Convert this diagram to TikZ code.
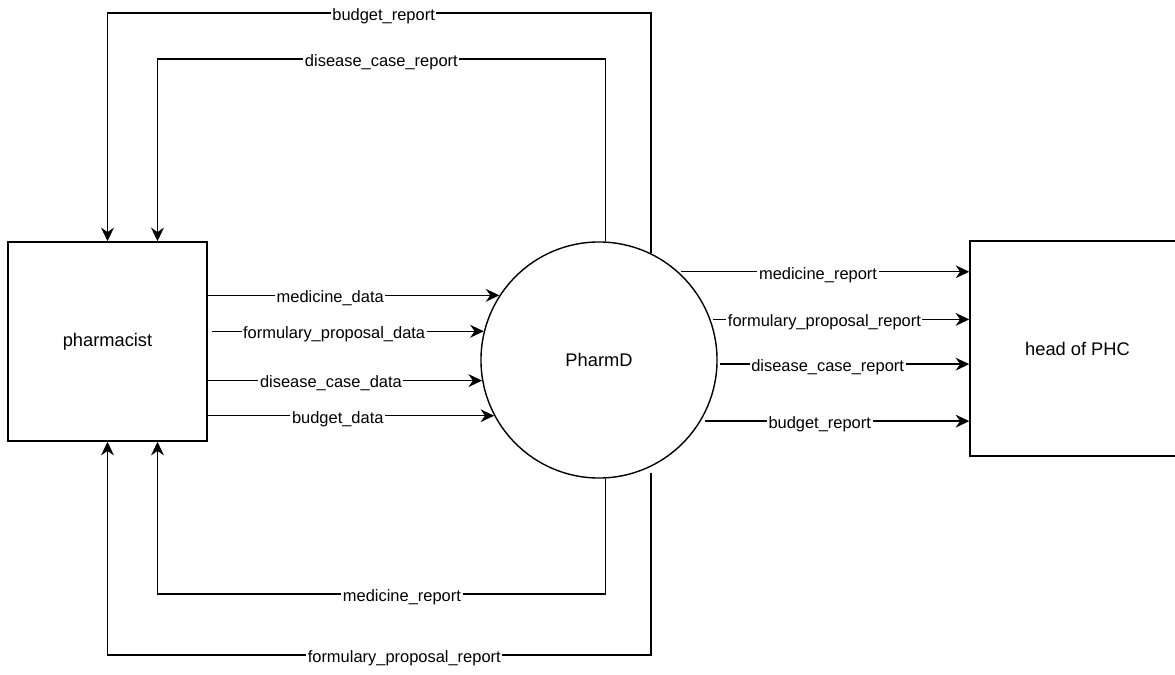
\documentclass[tikz,border=0pt]{standalone}
\usepackage{fontspec}
\setmainfont{Liberation Sans}
\usetikzlibrary{arrows.meta,calc}

\begin{document}
\begin{tikzpicture}[x=0.025cm, y=-0.025cm, line width=1pt,
    flow/.style={-{Stealth[length=0.34cm,width=0.32cm,inset=0.11cm]}},
    lbl/.style={fill=white, inner xsep=0.04cm, inner ysep=0pt, yshift=-0.08cm,
        text height=8.4pt, text depth=2.5pt, font=\fontsize{11.7}{13}\selectfont},
    entity/.style={draw, inner sep=0pt, font=\fontsize{13}{15}\selectfont,
        minimum width=4.975cm, minimum height=4.975cm},
    process/.style={draw, circle, inner sep=0pt, minimum size=5.9cm,
        font=\fontsize{13}{15}\selectfont}]
    % --- 画布范围 ---
    \useasboundingbox (0,0) rectangle (1175,675);

    % --- 三个主体：外部实体与处理过程 ---
    \node[entity] (pharm) at (107.5,341.5) {pharmacist};
    \node[process] (pharmd) at (599,360) {PharmD};
    \node[entity, minimum width=5.375cm, minimum height=5.375cm] (phc) at (1077.5,348.5) {head of PHC};

    % --- 上下回路的高度，以及 pharmacist 上第二个接入点 ---
    \coordinate (topA) at (0,13);
    \coordinate (topB) at (0,59);
    \coordinate (botA) at (0,594);
    \coordinate (botB) at (0,655);
    \coordinate (pinB) at ($(pharm.north)+(50,0)$);
    \coordinate (poutB) at ($(pharm.south)+(50,0)$);

    % --- pharmacist -> PharmD ---
    \draw[flow] (pharm.east |- pharmd.147.4) -- node[lbl, pos=0.42] {medicine\_data} (pharmd.147.4);
    \draw[flow, shorten <=0.1cm] (pharm.east |- pharmd.166.3) -- node[lbl, pos=0.458] {formulary\_proposal\_data} (pharmd.166.3);
    \draw[flow] (pharm.east |- pharmd.-170.2) -- node[lbl, pos=0.449] {disease\_case\_data} (pharmd.-170.2);
    \draw[flow] (pharm.east |- pharmd.-152.2) -- node[lbl, pos=0.454] {budget\_data} (pharmd.-152.2);

    % --- PharmD -> pharmacist：上方两条回路 ---
    \draw[flow] (pharmd.64.4) |- node[lbl, pos=0.746] {budget\_report} (pharm.north |- topA) -- (pharm.north);
    \draw[flow] (pharmd.87.6) |- node[lbl, pos=0.75] {disease\_case\_report} (pinB |- topB) -- (pinB);

    % --- PharmD -> pharmacist：下方两条回路 ---
    \draw[flow] (pharmd.-87.6) |- node[lbl, pos=0.727] {medicine\_report} (poutB |- botA) -- (poutB);
    \draw[flow, shorten <=0.15cm] (pharmd.-64.4) |- node[lbl, pos=0.727] {formulary\_proposal\_report} (pharm.south |- botB) -- (pharm.south);

    % --- PharmD -> head of PHC ---
    \draw[flow, shorten <=0.07cm] (pharmd.48.2) -- node[lbl, pos=0.48] {medicine\_report} (pharmd.48.2 -| phc.west);
    \draw[flow, shorten <=0.07cm] (pharmd.20.3) -- node[lbl, pos=0.44] {formulary\_proposal\_report} (pharmd.20.3 -| phc.west);
    \draw[flow, shorten <=0.07cm] (pharmd.-2.2) -- node[lbl, pos=0.437] {disease\_case\_report} (pharmd.-2.2 -| phc.west);
    \draw[flow, shorten <=0.1cm] (pharmd.-31.1) -- node[lbl, pos=0.443] {budget\_report} (pharmd.-31.1 -| phc.west);
\end{tikzpicture}
\end{document}
